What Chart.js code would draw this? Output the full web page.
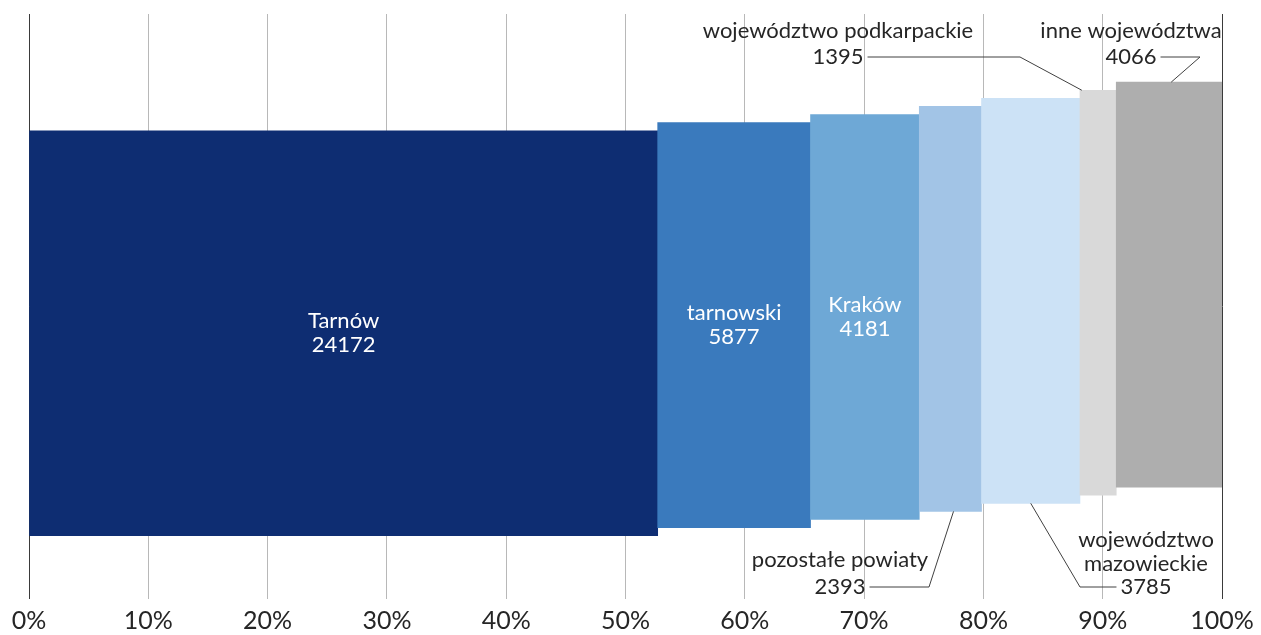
<!DOCTYPE html>
<html>
<head>
<meta charset="utf-8">
<script src="https://cdn.jsdelivr.net/npm/chart.js@4"></script>
<style>
  body { margin: 0; background: #fff; }
  #wrap { width: 1261px; height: 635px; }
</style>
</head>
<body>
<div id="wrap"><canvas id="mekko"></canvas></div>
<script>
const categories = ["Tarnów", "tarnowski", "Kraków", "pozostałe powiaty",
  "województwo mazowieckie", "województwo podkarpackie", "inne województwa"];
const counts = [24172, 5877, 4181, 2393, 3785, 1395, 4066];
const tickLabels = ["0%", "10%", "20%", "30%", "40%", "50%", "60%", "70%", "80%", "90%", "100%"];
const colors = ["#0E2D72", "#3A7ABD", "#6EA8D6", "#A2C4E6", "#CCE2F6", "#D9D9D9", "#AEAEAE"];

const total = counts.reduce((a, b) => a + b, 0);
let run = 0;
const segments = counts.map((v, i) => {
  const start = run / total * 100;
  run += v;
  return { x: [start, run / total * 100], y: i };
});

const FONT = "Lato, 'Open Sans', sans-serif";

// labels outside the bars, with leader lines
// side: which end of the value line the leader starts from
const outside = {
  3: { cx: 840, ys: [560, 587], side: "right", elbow: 929, edge: "bottom", at: 0.55 },
  4: { cx: 1146, ys: [540, 564, 587], side: "left", elbow: 1080, edge: "bottom", at: 0.5 },
  5: { cx: 838, ys: [31, 57], side: "right", elbow: 1020, edge: "top", at: 0.05 },
  6: { cx: 1131, ys: [31, 57], side: "right", elbow: 1200, edge: "top", at: 0.52 }
};
const outsideLines = {
  3: ["pozostałe powiaty"],
  4: ["województwo", "mazowieckie"],
  5: ["województwo podkarpackie"],
  6: ["inne województwa"]
};

const labelPlugin = {
  id: "segLabels",
  afterDatasetsDraw(chart) {
    const ctx = chart.ctx;
    const meta = chart.getDatasetMeta(0);
    ctx.save();
    ctx.font = "22px " + FONT;
    ctx.textAlign = "center";
    ctx.textBaseline = "middle";
    meta.data.forEach((el, i) => {
      const p = el.getProps(["x", "y", "base", "height"], true);
      const left = Math.min(p.x, p.base), right = Math.max(p.x, p.base);
      if (!outside[i]) {
        ctx.fillStyle = "#ffffff";
        const cx = (left + right) / 2;
        ctx.fillText(categories[i], cx, p.y - 12);
        ctx.fillText(String(counts[i]), cx, p.y + 12);
        return;
      }
      const o = outside[i];
      const lines = outsideLines[i].concat([String(counts[i])]);
      ctx.fillStyle = "#262626";
      lines.forEach((t, k) => ctx.fillText(t, o.cx, o.ys[k]));
      const vw = ctx.measureText(String(counts[i])).width;
      const ly = o.ys[o.ys.length - 1];
      const sx = o.side === "right" ? o.cx + vw / 2 + 4 : o.cx - vw / 2 - 4;
      const ax = left + (right - left) * o.at;
      const ay = o.edge === "top" ? p.y - p.height / 2 : p.y + p.height / 2;
      ctx.strokeStyle = "#404040";
      ctx.lineWidth = 1;
      ctx.beginPath();
      ctx.moveTo(sx, ly);
      ctx.lineTo(o.elbow, ly);
      ctx.lineTo(ax, ay);
      ctx.stroke();
    });
    ctx.restore();
  }
};

new Chart(document.getElementById("mekko"), {
  type: "bar",
  data: {
    datasets: [{
      data: segments,
      backgroundColor: colors,
      borderWidth: 0,
      barThickness: 405
    }]
  },
  options: {
    indexAxis: "y",
    responsive: true,
    maintainAspectRatio: false,
    animation: false,
    layout: { padding: { left: 29, right: 39, top: 14, bottom: 0 } },
    plugins: { legend: { display: false }, tooltip: { enabled: false } },
    scales: {
      x: {
        type: "linear",
        min: 0,
        max: 100,
        afterFit: (s) => { s.height = 36; },
        border: { display: false },
        grid: {
          drawTicks: false,
          color: (c) => (c.tick && (c.tick.value === 0 || c.tick.value === 100)) ? "#3a3a3a" : "#b8b8b8"
        },
        ticks: {
          stepSize: 10,
          padding: 7,
          color: "#262626",
          font: { family: FONT, size: 25 },
          callback: (v) => tickLabels[Math.round(v / 10)]
        }
      },
      y: {
        type: "linear",
        display: false,
        offset: false,
        grid: { offset: false },
        bounds: "data",
        min: -32.8,
        max: 39.4
      }
    }
  },
  plugins: [labelPlugin]
});
</script>
</body>
</html>
